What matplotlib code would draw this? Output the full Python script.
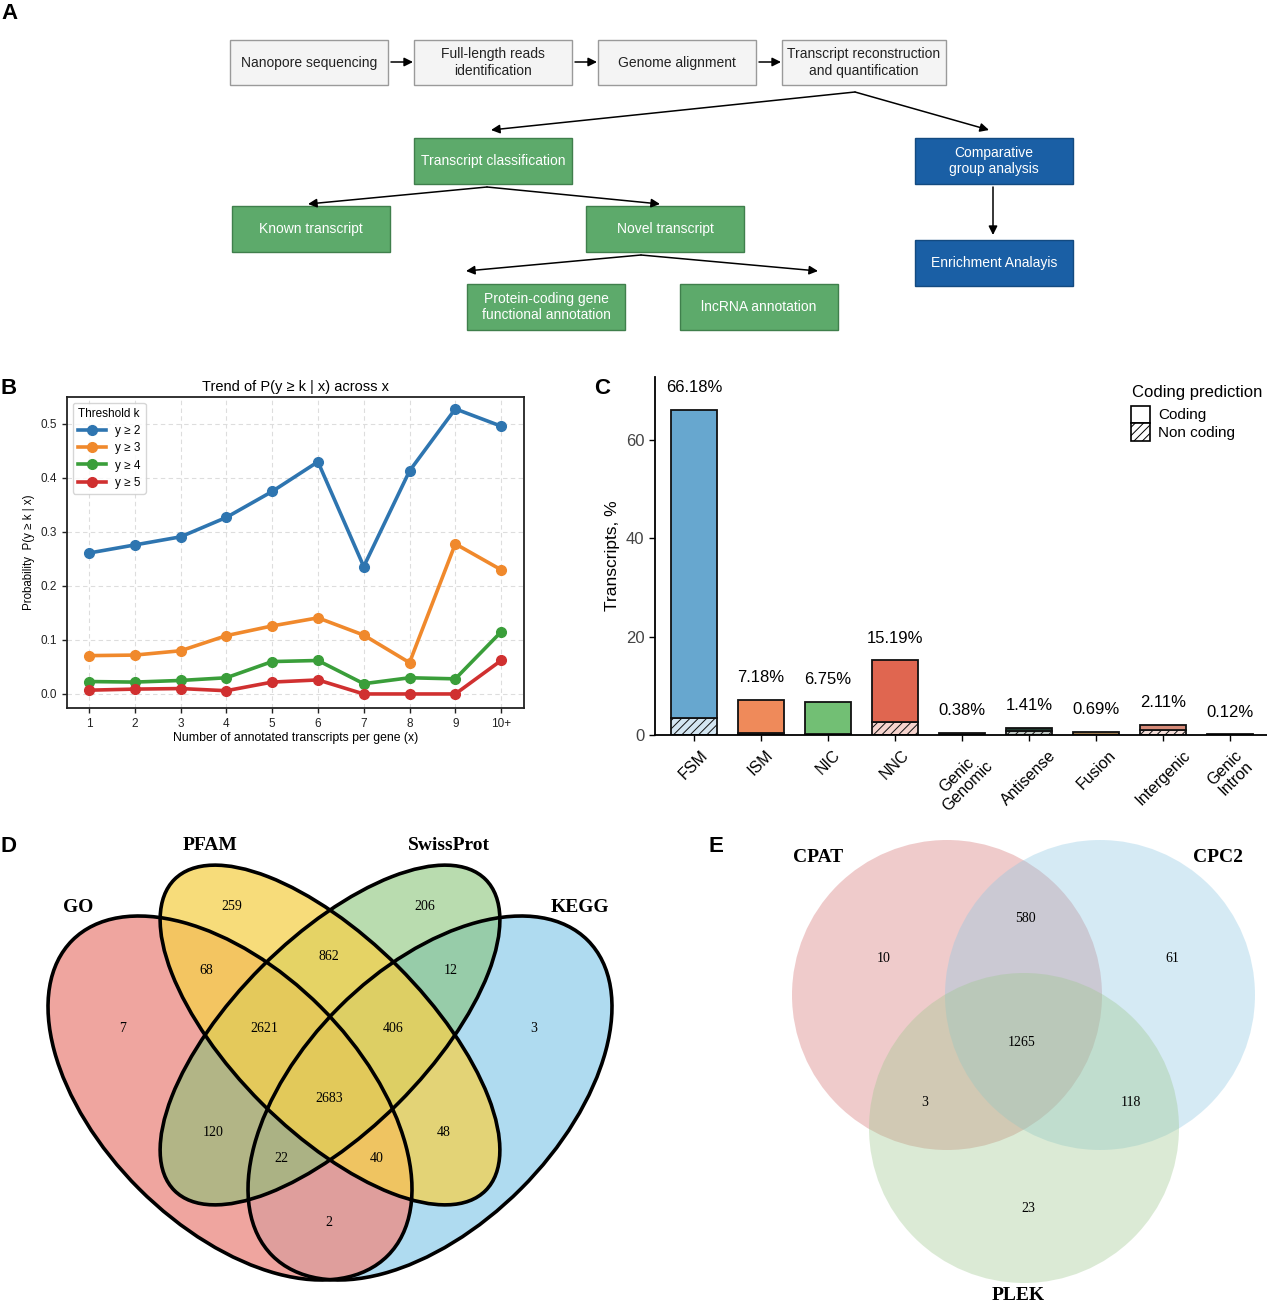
import matplotlib
matplotlib.use("Agg")
import matplotlib.pyplot as plt
from matplotlib.patches import Rectangle, Ellipse, Circle, Patch
from matplotlib.transforms import ScaledTranslation
import numpy as np

plt.rcParams['font.family'] = ['Liberation Sans', 'DejaVu Sans']
plt.rcParams['hatch.linewidth'] = 0.7

W, H = 1267, 1309
fig = plt.figure(figsize=(W / 100, H / 100), dpi=100)

# ---------------- data ----------------
# panel A workflow steps
steps_top = ["Nanopore sequencing", "Full-length reads\nidentification",
             "Genome alignment", "Transcript reconstruction\nand quantification"]
steps_green = ["Transcript classification", "Known transcript", "Novel transcript",
               "Protein-coding gene\nfunctional annotation", "lncRNA annotation"]
steps_blue = ["Comparative\ngroup analysis", "Enrichment Analayis"]

# panel B
x_labels = ["1", "2", "3", "4", "5", "6", "7", "8", "9", "10+"]
p_ge2 = [0.261, 0.276, 0.291, 0.327, 0.375, 0.430, 0.236, 0.413, 0.528, 0.496]
p_ge3 = [0.071, 0.072, 0.080, 0.108, 0.126, 0.141, 0.109, 0.058, 0.278, 0.230]
p_ge4 = [0.023, 0.022, 0.025, 0.030, 0.060, 0.062, 0.019, 0.030, 0.028, 0.115]
p_ge5 = [0.007, 0.009, 0.010, 0.006, 0.022, 0.026, 0.000, 0.000, 0.000, 0.062]
series_names = ["y \u2265 2", "y \u2265 3", "y \u2265 4", "y \u2265 5"]

# panel C
categories = ["FSM", "ISM", "NIC", "NNC", "Genic\nGenomic", "Antisense",
              "Fusion", "Intergenic", "Genic\nIntron"]
total_pct = [66.18, 7.18, 6.75, 15.19, 0.38, 1.41, 0.69, 2.11, 0.12]
noncoding_pct = [3.5, 0.5, 0.3, 2.6, 0.1, 0.8, 0.1, 0.95, 0.04]

# panel D (GO, PFAM, SwissProt, KEGG)
venn4_sets = ["GO", "PFAM", "SwissProt", "KEGG"]
venn4_counts = {"GO": 7, "PFAM": 259, "SwissProt": 206, "KEGG": 3,
                "GO&PFAM": 68, "PFAM&SwissProt": 862, "SwissProt&KEGG": 12,
                "GO&PFAM&SwissProt": 2621, "PFAM&SwissProt&KEGG": 406,
                "all": 2683, "GO&SwissProt": 120, "PFAM&KEGG": 48,
                "GO&SwissProt&KEGG": 22, "GO&PFAM&KEGG": 40, "GO&KEGG": 2}

# panel E (CPAT, CPC2, PLEK)
venn3_sets = ["CPAT", "CPC2", "PLEK"]
venn3_counts = {"CPAT": 10, "CPAT&CPC2": 580, "CPC2": 61, "all": 1265,
                "CPAT&PLEK": 3, "CPC2&PLEK": 118, "PLEK": 23}

# ---------------- overlay axes in pixel units ----------------
ov = fig.add_axes([0, 0, 1, 1])
ov.set_xlim(0, W)
ov.set_ylim(H, 0)
ov.axis("off")

for lab, (px, py) in zip("ABCDE", [(1, 3), (1, 378), (594, 378), (1, 836), (709, 836)]):
    ov.text(px, py, lab, fontsize=16, fontweight="bold", ha="left", va="top")

# ---------------- panel A ----------------
def box(x0, y0, x1, y1, text, fc, ec, tc):
    ov.add_patch(Rectangle((x0, y0), x1 - x0, y1 - y0, facecolor=fc, edgecolor=ec, lw=1.0))
    ov.text((x0 + x1) / 2, (y0 + y1) / 2, text, ha="center", va="center",
            fontsize=10, color=tc, linespacing=1.25)

def arrow(p0, p1):
    ov.annotate("", xy=p1, xytext=p0,
                arrowprops=dict(arrowstyle="-|>", color="black", lw=1.1,
                                mutation_scale=13, shrinkA=0, shrinkB=0))

top_x = [(230, 388), (414, 572), (598, 756), (782, 946)]
for (x0, x1), t in zip(top_x, steps_top):
    box(x0, 40, x1, 85, t, "#f4f4f4", "#9a9a9a", "#222222")
for i in range(3):
    arrow((top_x[i][1] + 3, 62), (top_x[i + 1][0] - 1, 62))

green = "#5daa6b"
green_pos = [(414, 138, 572, 184), (232, 206, 390, 252), (586, 206, 744, 252),
             (467, 284, 625, 330), (680, 284, 838, 330)]
for (x0, y0, x1, y1), t in zip(green_pos, steps_green):
    box(x0, y0, x1, y1, t, green, "#3f7f4c", "white")

blue = "#1a5fa5"
blue_pos = [(915, 138, 1073, 184), (915, 240, 1073, 286)]
for (x0, y0, x1, y1), t in zip(blue_pos, steps_blue):
    box(x0, y0, x1, y1, t, blue, "#134a80", "white")

arrow((855, 92), (491, 130))
arrow((855, 92), (989, 130))
arrow((993, 187), (993, 235))
arrow((487, 187), (308, 204))
arrow((487, 187), (660, 204))
arrow((641, 255), (466, 271))
arrow((641, 255), (818, 271))

# ---------------- panel B ----------------
axB = fig.add_axes([67 / W, 1 - 708 / H, 457 / W, 311 / H])
xs = np.arange(len(x_labels))
colB = ["#2e75b0", "#f0892c", "#3a9e3a", "#d03030"]
for vals, nm, c in zip([p_ge2, p_ge3, p_ge4, p_ge5], series_names, colB):
    axB.plot(xs, vals, "-o", color=c, lw=2.6, ms=7, label=nm)
axB.set_xlim(-0.48, 9.5)
axB.set_ylim(-0.026, 0.55)
axB.set_xticks(xs)
axB.set_xticklabels(x_labels)
axB.set_yticks([0, 0.1, 0.2, 0.3, 0.4, 0.5])
axB.tick_params(labelsize=8.5, length=3.5, width=1, colors="#222222")
axB.grid(True, ls=(0, (4, 3)), color="#dddddd", lw=0.8)
for s in axB.spines.values():
    s.set_linewidth(1.3)
    s.set_color("#222222")
axB.set_title("Trend of P(y \u2265 k | x) across x", fontsize=10.5, pad=4)
axB.set_xlabel("Number of annotated transcripts per gene (x)", fontsize=8.8, labelpad=2)
axB.set_ylabel("Probability  P(y \u2265 k | x)", fontsize=8.3, labelpad=4)
lg = axB.legend(title="Threshold k", loc="upper left", fontsize=8.5, title_fontsize=8.5,
                frameon=True, handlelength=2.4, borderpad=0.4, labelspacing=0.45,
                alignment="left", markerscale=1.0)
lg.get_frame().set_edgecolor("#cccccc")

# ---------------- panel C ----------------
axC = fig.add_axes([655 / W, 1 - 735 / H, (W - 655) / W, 358 / H])
colC = ["#67a7cf", "#ef8a5a", "#72bf74", "#e06650", "#1e1e1e", "#1f3a2e",
        "#9e7b4f", "#d68a78", "#3a3a3a"]
xc = np.arange(len(categories))
def lighten(c, a=0.28):
    r = np.array(matplotlib.colors.to_rgb(c))
    return tuple(1 - a * (1 - r))
for i in range(len(categories)):
    nc = noncoding_pct[i]
    cod = total_pct[i] - nc
    axC.bar(xc[i], nc, width=0.69, color=lighten(colC[i]), edgecolor="#111111",
            lw=1.3, hatch="////")
    axC.bar(xc[i], cod, bottom=nc, width=0.69, color=colC[i], edgecolor="#111111", lw=1.3)
    axC.text(xc[i], total_pct[i] + 3.0, "%.2f%%" % total_pct[i], ha="center",
             va="bottom", fontsize=12)
axC.set_xlim(-0.58, 8.55)
axC.set_ylim(0, 72.8)
axC.set_yticks([0, 20, 40, 60])
axC.set_xticks(xc)
axC.set_xticklabels(categories, rotation=45, ha="center", va="top", fontsize=11.5,
                    linespacing=1.0)
for t in axC.get_xticklabels():
    t.set_transform(t.get_transform() + ScaledTranslation(0.05, 0, fig.dpi_scale_trans))
axC.tick_params(axis="y", labelsize=12, labelcolor="#444444", length=4, width=1)
axC.tick_params(axis="x", length=4, width=1, pad=5)
axC.spines["top"].set_visible(False)
axC.spines["right"].set_visible(False)
axC.spines["left"].set_linewidth(1.3)
axC.spines["bottom"].set_linewidth(1.3)
axC.set_ylabel("Transcripts, %", fontsize=12.5, labelpad=4)
fig.text(1132 / W, 1 - 392 / H, "Coding prediction", fontsize=12, ha="left", va="center")
handles = [Patch(facecolor="white", edgecolor="black", lw=1.2),
           Patch(facecolor="white", edgecolor="black", lw=1.2, hatch="////")]
axC.legend(handles, ["Coding", "Non coding"],
           loc="upper left", bbox_to_anchor=(1129 / W, 1 - 404 / H),
           bbox_transform=fig.transFigure, frameon=False, fontsize=11,
           handlelength=1.3, handleheight=1.35, labelspacing=0.05,
           handletextpad=0.5, borderaxespad=0, borderpad=0.1)

# ---------------- panel D ----------------
serif = ["Liberation Serif", "DejaVu Serif"]
ell = {"KEGG": ((430, 1098), 446, 257, -45, (0.48, 0.77, 0.90), 0.6),
       "GO": ((230, 1098), 446, 257, 45, (0.925, 0.56, 0.53), 0.8),
       "SwissProt": ((330, 1035), 440, 193, -45, (0.52, 0.76, 0.45), 0.57),
       "PFAM": ((330, 1035), 440, 193, 45, (0.96, 0.82, 0.30), 0.75)}
for nm in ["KEGG", "GO", "SwissProt", "PFAM"]:
    c, w, h, a, col, al = ell[nm]
    ov.add_patch(Ellipse(c, w, h, angle=a, facecolor=col, alpha=al, lw=0))
for nm in ["KEGG", "GO", "SwissProt", "PFAM"]:
    c, w, h, a, col, al = ell[nm]
    ov.add_patch(Ellipse(c, w, h, angle=a, fill=False, edgecolor="black", lw=2.6))
pos4 = {"GO": (123, 1028), "PFAM": (232, 906), "SwissProt": (425, 906), "KEGG": (534, 1028),
        "GO&PFAM": (206, 970), "PFAM&SwissProt": (329, 957), "SwissProt&KEGG": (451, 970),
        "GO&PFAM&SwissProt": (264, 1028), "PFAM&SwissProt&KEGG": (393, 1028),
        "all": (329, 1099), "GO&SwissProt": (213, 1132), "PFAM&KEGG": (444, 1132),
        "GO&SwissProt&KEGG": (281, 1158), "GO&PFAM&KEGG": (377, 1158), "GO&KEGG": (329, 1222)}
for k, v in venn4_counts.items():
    ov.text(pos4[k][0], pos4[k][1], str(v), ha="center", va="center", fontsize=10,
            family=serif)
for nm, (px, py) in zip(venn4_sets, [(78, 907), (210, 845), (449, 845), (580, 907)]):
    ov.text(px, py, nm, ha="center", va="center", fontsize=14, fontweight="bold",
            family=serif)

# ---------------- panel E ----------------
circ = {"CPAT": ((947, 995), (0.83, 0.44, 0.44)),
        "CPC2": ((1100, 995), (0.55, 0.78, 0.89)),
        "PLEK": ((1024, 1128), (0.61, 0.78, 0.55))}
for nm in venn3_sets:
    c, col = circ[nm]
    ov.add_patch(Circle(c, 155, facecolor=col, alpha=0.36, lw=0))
pos3 = {"CPAT": (884, 958), "CPAT&CPC2": (1025, 918), "CPC2": (1172, 958),
        "all": (1022, 1042), "CPAT&PLEK": (925, 1103), "CPC2&PLEK": (1131, 1103),
        "PLEK": (1028, 1208)}
for k, v in venn3_counts.items():
    ov.text(pos3[k][0], pos3[k][1], str(v), ha="center", va="center", fontsize=10,
            family=serif)
for nm, (px, py) in zip(venn3_sets, [(818, 858), (1218, 858), (1018, 1295)]):
    ov.text(px, py, nm, ha="center", va="center", fontsize=14, fontweight="bold",
            family=serif)

fig.savefig("out.png", dpi=100)
